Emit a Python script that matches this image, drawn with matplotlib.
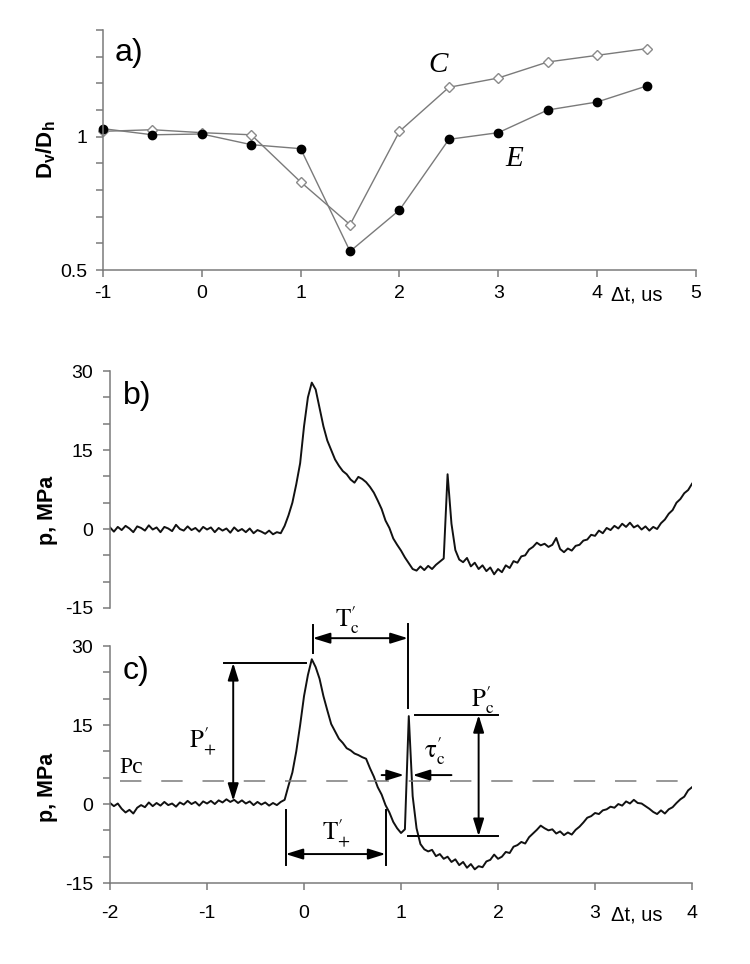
import numpy as np
import matplotlib.pyplot as plt
from matplotlib.patches import ArrowStyle

plt.rcParams['font.family'] = ['Liberation Sans', 'DejaVu Sans']
plt.rcParams['axes.unicode_minus'] = False
plt.rcParams['mathtext.fontset'] = 'custom'
plt.rcParams['mathtext.rm'] = 'Liberation Sans'
plt.rcParams['mathtext.it'] = 'Liberation Sans:italic'
plt.rcParams['mathtext.bf'] = 'Liberation Sans:bold'

# ---- panel a): ratio Dv/Dh against delay
dt_a = [-1, -0.5, 0, 0.5, 1, 1.5, 2, 2.5, 3, 3.5, 4, 4.5]
ratio_C = [1.02, 1.026, 1.015, 1.007, 0.83, 0.67, 1.02, 1.185, 1.22, 1.28, 1.305, 1.33]
ratio_E = [1.03, 1.007, 1.01, 0.97, 0.955, 0.57, 0.725, 0.99, 1.015, 1.10, 1.13, 1.19]

# ---- panels b) and c): pressure traces, sampled every 0.04 us from -2 to 4
p_b = [0.3, -0.5, 0.4, -0.2, 0.6, 0.1, -0.6, 0.5, 0.2, -0.3,
       0.7, -0.1, 0.3, -0.6, 0.4, 0.1, -0.4, 0.8, 0.0, -0.3,
       0.5, -0.2, 0.2, -0.5, 0.4, -0.1, 0.3, -0.6, 0.2, -0.3,
       0.1, -0.7, 0.3, -0.4, 0.0, -0.6, 0.1, -0.8, -0.2, -0.5,
       -0.9, -0.3, -1.0, -0.6, -0.8, 0.6, 2.6, 5.0, 8.5, 12.5,
       19.5, 25.0, 27.8, 26.5, 23.0, 19.5, 16.8, 15.0, 13.2, 12.0,
       11.0, 10.4, 9.4, 8.8, 9.9, 9.5, 8.9, 8.0, 6.9, 5.4,
       3.8, 1.6, 0.2, -1.8, -3.0, -4.1, -5.4, -6.5, -7.6, -7.9,
       -7.1, -7.8, -7.0, -7.6, -6.8, -6.2, -5.6, 10.4, 1.0, -4.0,
       -5.8, -6.3, -5.5, -7.1, -6.4, -7.6, -6.9, -8.0, -7.3, -8.6,
       -7.6, -8.2, -6.9, -7.4, -6.1, -6.4, -5.2, -5.0, -3.9, -3.4,
       -2.6, -3.1, -2.8, -3.4, -3.0, -1.7, -3.8, -4.4, -3.7, -4.1,
       -3.2, -3.0, -2.2, -2.0, -1.1, -1.3, -0.3, -0.8, 0.2, -0.2,
       0.6, 0.1, 1.0, 0.4, 1.2, 0.3, 0.7, -0.1, 0.5, -0.3,
       0.4, 0.0, 1.1, 1.8, 2.9, 3.6, 5.0, 5.7, 6.8, 7.4,
       8.6]
p_c = [0.2, -0.4, 0.1, -0.9, -1.6, -1.1, -1.8, -0.7, -0.2, -0.6,
       0.3, -0.4, 0.2, -0.3, 0.4, -0.2, 0.1, -0.5, 0.3, -0.1,
       0.6, 0.0, 0.4, -0.3, 0.5, 0.1, 0.6, 0.0, 0.7, 0.3,
       0.9, 0.4, 0.8, 0.2, 0.7, 0.1, 0.5, -0.2, 0.4, -0.1,
       0.3, -0.3, 0.2, -0.2, 0.4, 0.8, 3.5, 6.0, 10.0, 15.0,
       20.5, 24.5, 27.5, 26.0, 23.8, 20.5, 17.8, 15.2, 13.8, 12.4,
       11.6, 10.6, 10.2, 9.6, 9.3, 8.9, 8.6, 6.8, 5.2, 3.2,
       1.8, -0.2, -1.6, -3.4, -4.6, -5.5, -4.8, 16.7, 1.5, -4.6,
       -7.6, -8.6, -9.0, -8.7, -9.9, -9.5, -10.4, -10.0, -11.0, -10.5,
       -11.6, -11.0, -12.1, -11.4, -12.4, -11.8, -12.0, -10.9, -10.6, -9.6,
       -10.4, -10.0, -9.1, -9.3, -8.1, -7.8, -7.2, -7.5, -6.3, -5.6,
       -4.9, -4.1, -4.6, -5.0, -4.8, -5.6, -5.2, -5.9, -5.4, -5.8,
       -4.9, -4.3, -3.5, -2.6, -2.3, -1.7, -1.9, -1.2, -1.0, -0.5,
       -0.7, 0.0, -0.3, 0.5, 0.1, 0.8, 0.2, 0.1, -0.4, -0.9,
       -1.5, -1.9, -1.2, -1.8, -1.0, -0.6, 0.2, 0.9, 1.4, 2.6,
       3.2]
t_b = np.linspace(-2, 4, len(p_b))
t_c = np.linspace(-2, 4, len(p_c))

# characteristic levels marked on panel c)
p_cav = 4.4          # Pc, dashed level
p_peak = 26.8        # P+' top
t_start, t_end = -0.19, 0.84   # T+'
t_peak, t_spike = 0.09, 1.07   # Tc'
p_spike_top, p_spike_bot = 16.9, -6.1

grey = '#7a7a7a'

fig = plt.figure(figsize=(7.5, 9.64), dpi=100)
ax_a = fig.add_axes([0.1373, 0.7199, 0.7907, 0.2490])
ax_b = fig.add_axes([0.1467, 0.3693, 0.7760, 0.2458])
ax_c = fig.add_axes([0.1467, 0.0840, 0.7760, 0.2458])


def style(ax, xpad, ypad):
    for s in ['top', 'right']:
        ax.spines[s].set_visible(False)
    for s in ['left', 'bottom']:
        ax.spines[s].set_color(grey)
        ax.spines[s].set_linewidth(1.1)
    ax.tick_params(which='both', direction='out', length=5, width=1.1,
                   color=grey, labelsize=14)
    ax.tick_params(axis='x', pad=xpad)
    ax.tick_params(axis='y', pad=ypad)


# panel a
ax_a.plot(dt_a, ratio_C, color=grey, lw=1.0, marker='D', ms=5.5,
          mfc='white', mec='#8a8a8a', mew=1.0, clip_on=False)
ax_a.plot(dt_a, ratio_E, color=grey, lw=1.0, marker='o', ms=6,
          mfc='black', mec='black', clip_on=False)
ax_a.set_xlim(-1, 5)
ax_a.set_ylim(0.5, 1.4)
ax_a.set_xticks(range(-1, 6))
ax_a.set_yticks([0.5, 1.0])
ax_a.set_yticklabels(['0.5', '1'])
ax_a.set_yticks(np.arange(0.6, 1.41, 0.1), minor=True)
style(ax_a, 6, 6)
ax_a.set_ylabel(r'$\mathbf{D_v/D_h}$', fontsize=16, fontweight='bold')
ax_a.yaxis.set_label_coords(-0.076, 0.5)
ax_a.text(2.39, 1.27, 'C', family='Liberation Serif', style='italic',
          fontsize=21, ha='center', va='center')
ax_a.text(3.16, 0.916, 'E', family='Liberation Serif', style='italic',
          fontsize=21, ha='center', va='center')
ax_a.text(0.02, 0.904, 'a)', transform=ax_a.transAxes, fontsize=23,
          ha='left', va='center')
ax_a.annotate('\u0394t, us', xy=(4.40, 0), xycoords=ax_a.get_xaxis_transform(),
              xytext=(0, -11), textcoords='offset points',
              ha='center', va='top', fontsize=14.5)

# panels b and c share the pressure axis
for ax, t, p in [(ax_b, t_b, p_b), (ax_c, t_c, p_c)]:
    ax.plot(t, p, color='#111111', lw=1.4)
    ax.set_xlim(-2, 4)
    ax.set_ylim(-15, 30)
    ax.set_yticks([-15, 0, 15, 30])
    ax.set_yticks(np.arange(-15, 31, 5), minor=True)
    style(ax, 11, 7)
    ax.set_ylabel('p, MPa', fontsize=15.5, fontweight='bold')

ax_b.spines['bottom'].set_visible(False)
ax_b.tick_params(axis='x', bottom=False, labelbottom=False)
ax_b.yaxis.set_label_coords(-0.089, 0.413)
ax_b.text(0.022, 0.895, 'b)', transform=ax_b.transAxes, fontsize=23,
          ha='left', va='center')

ax_c.set_xticks(range(-2, 5))
ax_c.yaxis.set_label_coords(-0.089, 0.405)
ax_c.text(0.021, 0.895, 'c)', transform=ax_c.transAxes, fontsize=23,
          ha='left', va='center')
ax_c.annotate('\u0394t, us', xy=(3.43, 0), xycoords=ax_c.get_xaxis_transform(),
              xytext=(0, -16), textcoords='offset points',
              ha='center', va='top', fontsize=14.5)

# annotations on panel c
arrow = dict(arrowstyle=ArrowStyle('<|-|>', head_length=0.8, head_width=0.25),
             mutation_scale=13, lw=1.4, color='black', shrinkA=0, shrinkB=0)
one_way = dict(arrowstyle=ArrowStyle('-|>', head_length=0.8, head_width=0.25),
               mutation_scale=13, lw=1.4, color='black', shrinkA=0, shrinkB=0)
serif = dict(math_fontfamily='stix', fontsize=18)

ax_c.plot([-1.9, 3.88], [p_cav, p_cav], color=grey, lw=1.1,
          linestyle=(0, (14, 13)))
ax_c.text(-1.9, 5.0, 'Pc', family='Liberation Serif', fontsize=17,
          ha='left', va='bottom')

# P+'
ax_c.plot([-0.82, 0.02], [p_peak, p_peak], color='black', lw=1.4)
ax_c.annotate('', xy=(-0.73, 0.6), xytext=(-0.73, p_peak), arrowprops=arrow)
ax_c.text(-1.04, 10.6, r'$\mathrm{P}_{+}^{\prime}$', ha='center',
          va='baseline', **serif)

# T+'
for x in [t_start, t_end]:
    ax_c.plot([x, x], [-1.2, -11.6], color='black', lw=1.4)
ax_c.annotate('', xy=(t_end, -9.5), xytext=(t_start, -9.5), arrowprops=arrow)
ax_c.text(0.33, -7.0, r'$\mathrm{T}_{+}^{\prime}$', ha='center',
          va='baseline', **serif)

# Tc'
ax_c.plot([t_peak, t_peak], [28.7, 34.0], color='black', lw=1.4, clip_on=False)
ax_c.plot([t_spike, t_spike], [18.2, 34.2], color='black', lw=1.4, clip_on=False)
ax_c.annotate('', xy=(t_spike, 31.5), xytext=(t_peak, 31.5), arrowprops=arrow,
              annotation_clip=False)
ax_c.text(0.45, 33.6, r'$\mathrm{T}_\mathrm{c}^{\prime}$', ha='center',
          va='baseline', **serif)

# Pc'
ax_c.plot([1.14, 2.0], [p_spike_top, p_spike_top], color='black', lw=1.4)
ax_c.plot([t_spike, 2.0], [p_spike_bot, p_spike_bot], color='black', lw=1.4)
ax_c.annotate('', xy=(1.80, p_spike_bot), xytext=(1.80, p_spike_top),
              arrowprops=arrow)
ax_c.text(1.84, 18.4, r'$\mathrm{P}_\mathrm{c}^{\prime}$', ha='center',
          va='baseline', **serif)

# tau c'
ax_c.annotate('', xy=(1.03, 5.5), xytext=(0.80, 5.5), arrowprops=one_way)
ax_c.annotate('', xy=(1.12, 5.5), xytext=(1.52, 5.5), arrowprops=one_way)
ax_c.text(1.35, 8.7, r'$\mathrm{\tau}_\mathrm{c}^{\prime}$', ha='center',
          va='baseline', **serif)

fig.savefig('out.png', dpi=100)
